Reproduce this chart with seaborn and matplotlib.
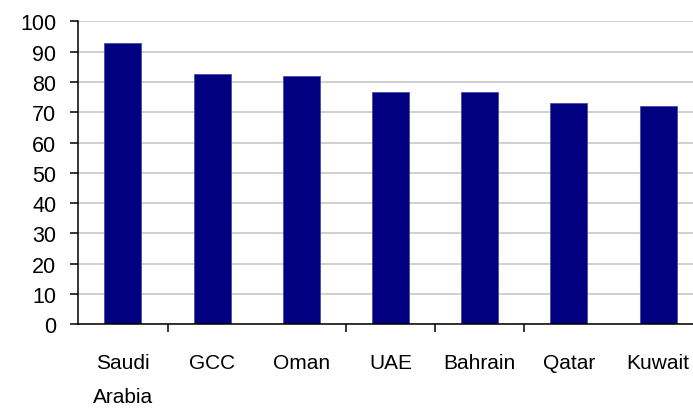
import matplotlib
matplotlib.use('Agg')
import matplotlib.pyplot as plt
import seaborn as sns
import pandas as pd

# values
countries = ['Saudi\nArabia', 'GCC', 'Oman', 'UAE', 'Bahrain', 'Qatar', 'Kuwait']
values = [93.0, 82.7, 82.0, 76.7, 76.7, 73.2, 71.9]
yticks = list(range(0, 101, 10))

df = pd.DataFrame({'country': countries, 'value': values})

sns.set_style('white')
plt.rcParams['font.family'] = ['Liberation Sans', 'DejaVu Sans']

fig = plt.figure(figsize=(6.93, 4.10), dpi=100)
ax = fig.add_axes([78.3 / 693, 84.7 / 410, 624.4 / 693, 303 / 410])

sns.barplot(data=df, x='country', y='value', color='#000080', width=0.415,
            edgecolor='#4a4aa8', linewidth=0.6, saturation=1, ax=ax)

ax.set_ylim(0, 100)
ax.set_xlim(-0.5, 6.5)
ax.set_yticks(yticks)
ax.yaxis.grid(True, color='#c4c4c4', linewidth=1.1)
ax.set_axisbelow(True)

for s in ['top', 'right']:
    ax.spines[s].set_visible(False)
for s in ['left', 'bottom']:
    ax.spines[s].set_color('black')
    ax.spines[s].set_linewidth(1.1)

ax.tick_params(axis='y', direction='out', length=5.8, width=1.1, color='black',
               pad=10, labelsize=15.5, labelcolor='black', left=True)
ax.tick_params(axis='x', which='major', length=0, pad=20.5, labelsize=15,
               labelcolor='black')
ax.set_xticks(range(len(countries)))
ax.set_xticklabels(countries, linespacing=2.0, va='top')
# tick marks between categories (some are missing in the original)
ax.set_xticks([0.5, 2.5, 3.5, 4.5], minor=True)
ax.tick_params(axis='x', which='minor', direction='out', length=5.8, width=1.1,
               color='black', bottom=True)

ax.set_xlabel('')
ax.set_ylabel('')

fig.savefig('out.png', dpi=100)
